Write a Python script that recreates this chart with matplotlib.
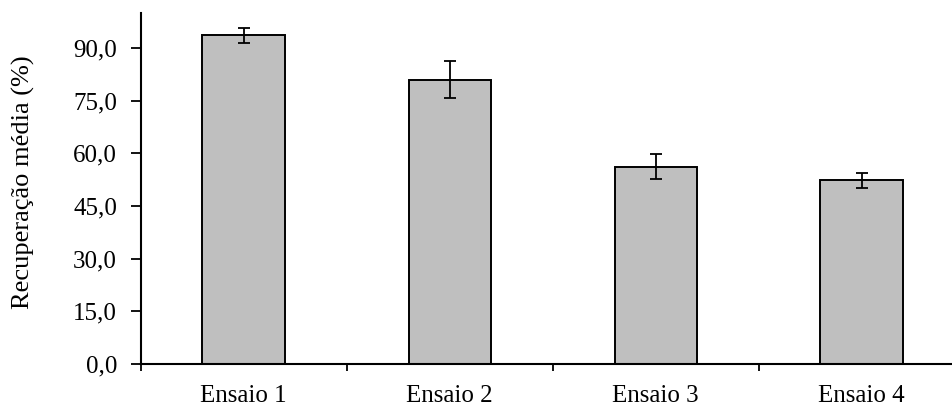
import numpy as np
import matplotlib.pyplot as plt
from matplotlib.ticker import FixedLocator

ensaios = ["Ensaio 1", "Ensaio 2", "Ensaio 3", "Ensaio 4"]
recuperacao = [93.6, 81.0, 56.2, 52.3]
desvio = [2.2, 5.2, 3.5, 2.1]
yticks = [0, 15, 30, 45, 60, 75, 90]

plt.rcParams['font.family'] = ['Liberation Serif', 'DejaVu Serif']

fig = plt.figure(figsize=(9.53, 4.05), dpi=100)
# right end of the axis runs past the picture edge, as in the reference
ax = fig.add_axes([140.7 / 953, 1 - 364 / 405, 824 / 953, 351 / 405])

x = np.arange(len(ensaios))
ax.bar(x, recuperacao, width=0.4, color="#bfbfbf", edgecolor="black", linewidth=1.4,
       yerr=desvio, capsize=4.5, error_kw=dict(elinewidth=1.3, capthick=1.3, ecolor="black"),
       zorder=2)

ax.set_xlim(-0.5, len(ensaios) - 0.5)
ax.set_ylim(0, 100)
ax.set_yticks(yticks)
ax.set_yticklabels([f"{v:.1f}".replace(".", ",") for v in yticks])
ax.set_xticks(x)
ax.set_xticklabels(ensaios)
ax.xaxis.set_minor_locator(FixedLocator(np.arange(len(ensaios) + 1) - 0.5))
ax.tick_params(axis="x", which="major", length=0, labelsize=18, pad=15)
ax.tick_params(axis="x", which="minor", length=5, width=1.3, direction="out")
ax.tick_params(axis="y", length=7, width=1.3, direction="out", labelsize=18, pad=10)

ax.set_ylabel("Recuperação média (%)", fontsize=19)
# label centre sits a bit below the axis middle in the reference
ax.yaxis.set_label_coords(-106 / 824, 1 - (182.5 - 13) / 351)

for s in ["top", "right"]:
    ax.spines[s].set_visible(False)
for s in ["left", "bottom"]:
    ax.spines[s].set_linewidth(1.5)

fig.savefig("out.png", dpi=100)
